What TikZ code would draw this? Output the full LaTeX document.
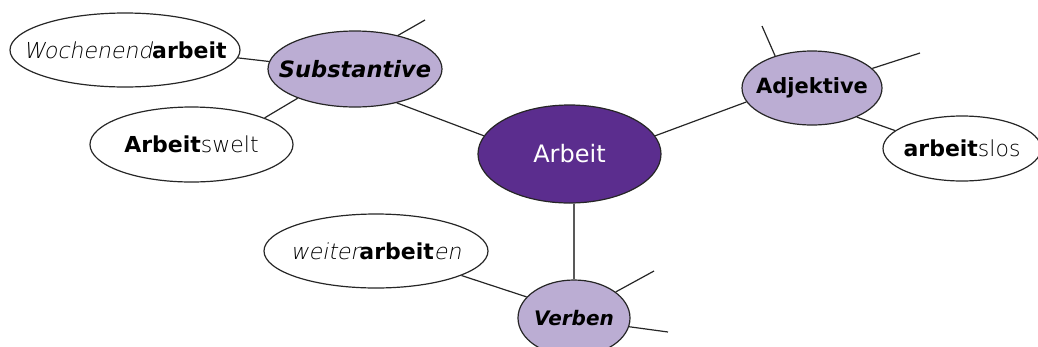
\documentclass[tikz,border=0pt]{standalone}
\usepackage{fontspec}
\setmainfont{DejaVu Sans}
\newfontfamily\thinfont{DejaVu Sans ExtraLight}
\newfontfamily\thinslant{DejaVu Sans ExtraLight}[FakeSlant=0.2]
\usetikzlibrary{shapes.geometric}
\definecolor{darkpurple}{RGB}{91,45,142}
\definecolor{lightpurple}{RGB}{187,173,211}
\newcommand\inbox[1]{\makebox[0pt]{#1}}
\begin{document}
\begin{tikzpicture}[x=1pt,y=-1pt,line width=1.2pt,
 main node/.style={ellipse,draw=black!85,inner sep=0pt,font=\fontsize{22}{26}\selectfont},
 root node/.style={main node,fill=darkpurple,text=white,font=\fontsize{24}{28}\selectfont},
 group node/.style={main node,fill=lightpurple},
 word node/.style={main node,fill=white}]
 		\useasboundingbox (0,0) rectangle (1038,346);
 		\node[root node,minimum width=183pt,minimum height=98pt] (arbeit) at (569.5,154) {\inbox{Arbeit}};
 		\node[group node,minimum width=174pt,minimum height=76pt] (subst) at (355,69) {\inbox{\fontsize{22.5}{26}\selectfont\bfseries\itshape Substantive}};
 		\node[group node,minimum width=140pt,minimum height=74pt] (adj) at (812,88) {\inbox{\fontsize{21}{26}\selectfont\bfseries Adjektive}};
 		\node[group node,minimum width=112pt,minimum height=76pt] (verb) at (574,318) {\inbox{\fontsize{20}{24}\selectfont\bfseries\itshape Verben}};
 		\node[word node,minimum width=230pt,minimum height=74pt] (woch) at (125,50) {\inbox{{\thinslant Wochenend}\textbf{arbeit}}};
 		\node[word node,minimum width=203pt,minimum height=75pt] (welt) at (191.5,144.5) {\inbox{\textbf{Arbeit}{\thinfont swelt}}};
 		\node[word node,minimum width=158pt,minimum height=65pt] (los) at (962,148.5) {\inbox{\textbf{arbeit}{\thinfont slos}}};
 		\node[word node,minimum width=224pt,minimum height=74pt] (weiter) at (376,251) {\inbox{{\thinslant weiter}\textbf{arbeit}{\thinslant en}}};
 		
 		% loose ends
 		\coordinate (s1) at (425,20);
 		\coordinate (a1) at (762,26);
 		\coordinate (a2) at (920,53);
 		\coordinate (v1) at (654,271);
 		\coordinate (v2) at (668,332);
 		
 		\path[draw=black!85]
 		(subst.321) edge (arbeit.168)
 		(adj.192) edge (arbeit.12)
 		(verb.north) edge[draw=black!65] (verb.north |- arbeit.south)
 		(woch.356) edge (subst.175)
 		(welt.20) edge (subst.207)
 		(subst.38) edge (s1)
 		(adj.139) edge (a1)
 		(adj.18) edge (a2)
 		(adj.327) edge (los.165)
 		(weiter.344) edge (verb.156)
 		(verb.32) edge (v1)
 		(verb.351) edge (v2)
 		;
 		\end{tikzpicture}
\end{document}
